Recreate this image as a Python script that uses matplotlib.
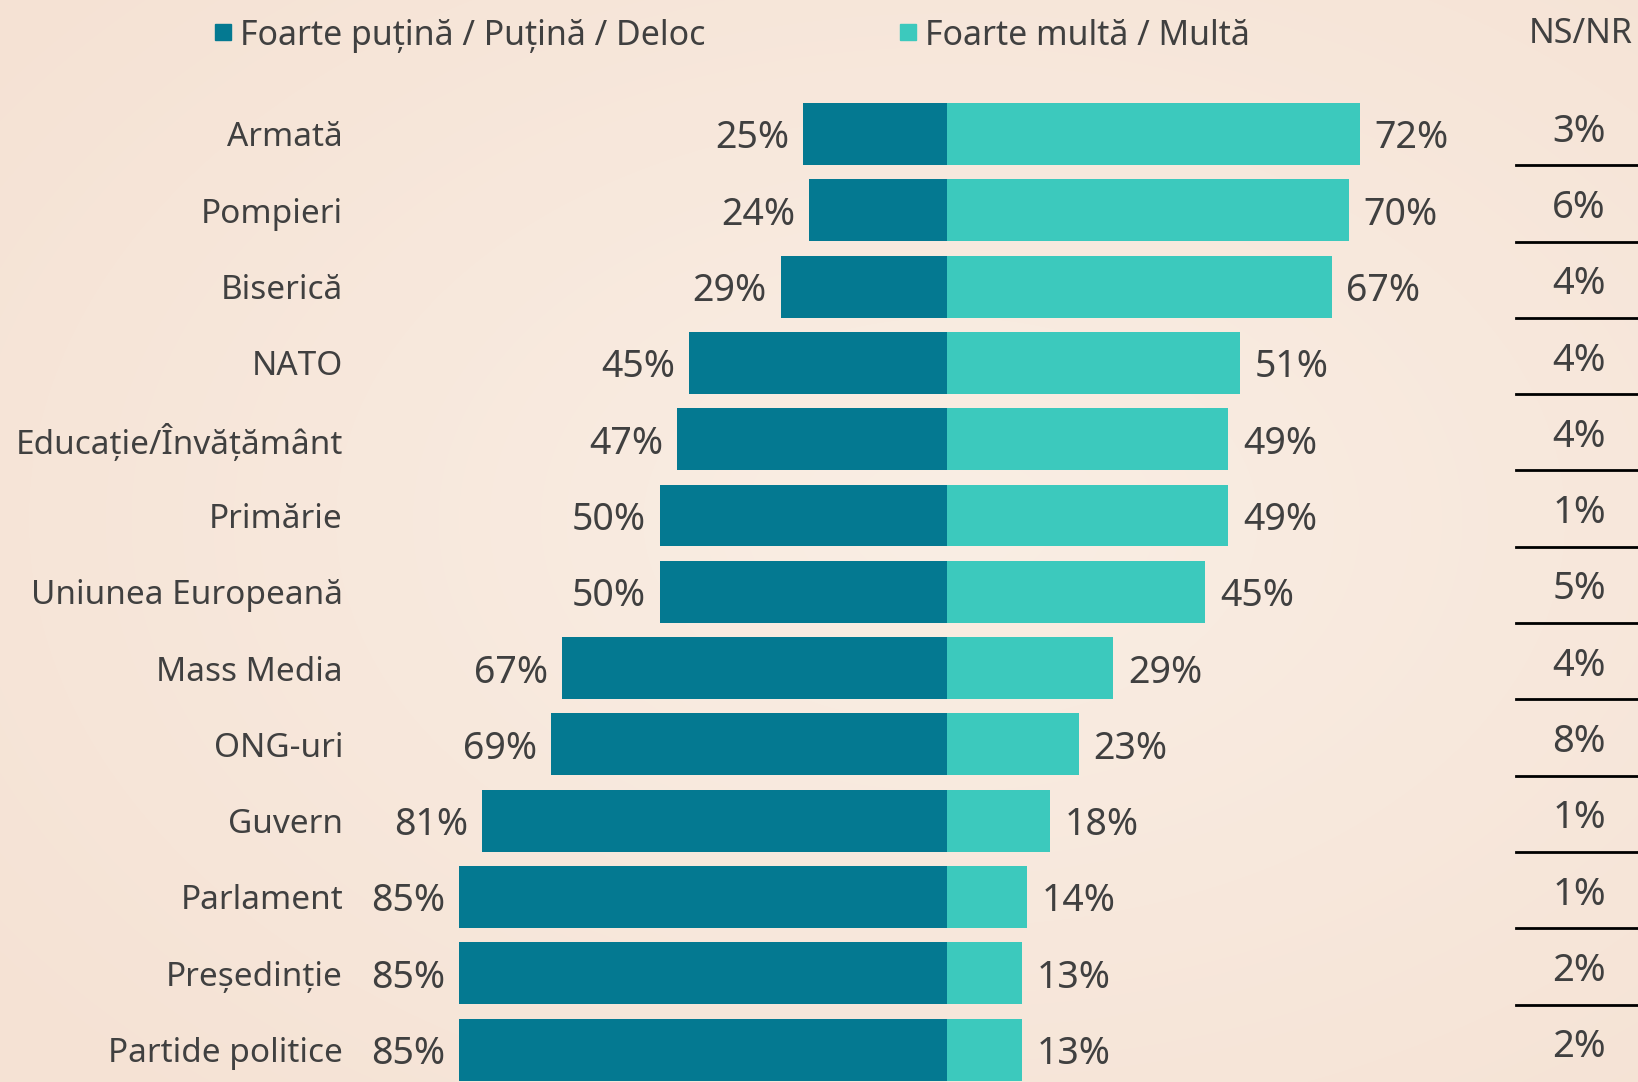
import matplotlib.pyplot as plt
import matplotlib.patches as mpatches
import numpy as np

plt.rcParams['font.family'] = ['Noto Sans', 'DejaVu Sans']

categories = ['Armată', 'Pompieri', 'Biserică', 'NATO', 'Educație/Învățământ',
              'Primărie', 'Uniunea Europeană', 'Mass Media', 'ONG-uri', 'Guvern',
              'Parlament', 'Președinție', 'Partide politice']
low_trust = [25, 24, 29, 45, 47, 50, 50, 67, 69, 81, 85, 85, 85]
high_trust = [72, 70, 67, 51, 49, 49, 45, 29, 23, 18, 14, 13, 13]
ns_nr = [3, 6, 4, 4, 4, 1, 5, 4, 8, 1, 1, 2, 2]

dark = '#047991'
light = '#3cc9bd'
txt = '#404040'

W, H = 1638, 1082
fig = plt.figure(figsize=(W / 100, H / 100), dpi=100)

# background with soft radial gradient
bg = fig.add_axes([0, 0, 1, 1])
yy, xx = np.mgrid[0:H, 0:W]
r = np.sqrt(((xx - 950) / W) ** 2 + ((yy - 520) / H) ** 2)
r = np.clip(r / 0.75, 0, 1)
c0 = np.array([250, 238, 228]) / 255
c1 = np.array([245, 226, 212]) / 255
img = c0[None, None, :] * (1 - r[..., None]) + c1[None, None, :] * r[..., None]
bg.imshow(img, aspect='auto', extent=[0, 1, 0, 1])
bg.axis('off')

ax = fig.add_axes([0, 0, 1, 1])
ax.patch.set_alpha(0)
px = 5.74          # pixels per percent
cx = 947           # center line in pixels
pitch = 76.3       # row pitch in pixels
y0 = 134           # first row center in pixels
ax.set_xlim(-cx / px, (W - cx) / px)
ax.set_ylim((H - y0) / pitch, -y0 / pitch)
ax.axis('off')

y = np.arange(len(categories))
ax.barh(y, [-v for v in low_trust], height=0.81, color=dark)
ax.barh(y, high_trust, height=0.81, color=light)

for i in range(len(categories)):
    ax.annotate(f'{low_trust[i]}%', (-low_trust[i], i), xytext=(-10, 0),
                textcoords='offset points', ha='right', va='center_baseline',
                fontsize=27, color=txt)
    ax.annotate(f'{high_trust[i]}%', (high_trust[i], i), xytext=(10.5, 0),
                textcoords='offset points', ha='left', va='center_baseline',
                fontsize=27, color=txt)
    ax.text(343 / W, i, categories[i], transform=ax.get_yaxis_transform(),
            ha='right', va='center_baseline', fontsize=24, color=txt)
    ax.text(1579 / W, i - 0.09, f'{ns_nr[i]}%', transform=ax.get_yaxis_transform(),
            ha='center', va='center_baseline', fontsize=27.5, color=txt)
    if i < len(categories) - 1:
        ax.plot([1516 / W, 1.0], [i + 0.41, i + 0.41], transform=ax.get_yaxis_transform(),
                color='black', lw=2, clip_on=False)

# header / legend
fig.text(1581 / W, 1 - 30 / H, 'NS/NR', ha='center', va='center_baseline',
         fontsize=24.5, color=txt, fontweight='light')
for xs, label, col in [(215, 'Foarte puțină / Puțină / Deloc', dark),
                       (900, 'Foarte multă / Multă', light)]:
    fig.patches.append(mpatches.Rectangle((xs / W, 1 - 40 / H), 16 / W, 16 / H,
                                          transform=fig.transFigure, color=col))
    fig.text((xs + 25) / W, 1 - 32 / H, label, ha='left', va='center_baseline',
             fontsize=24.4, color=txt, fontweight='light')

fig.savefig('out.png', dpi=100)
